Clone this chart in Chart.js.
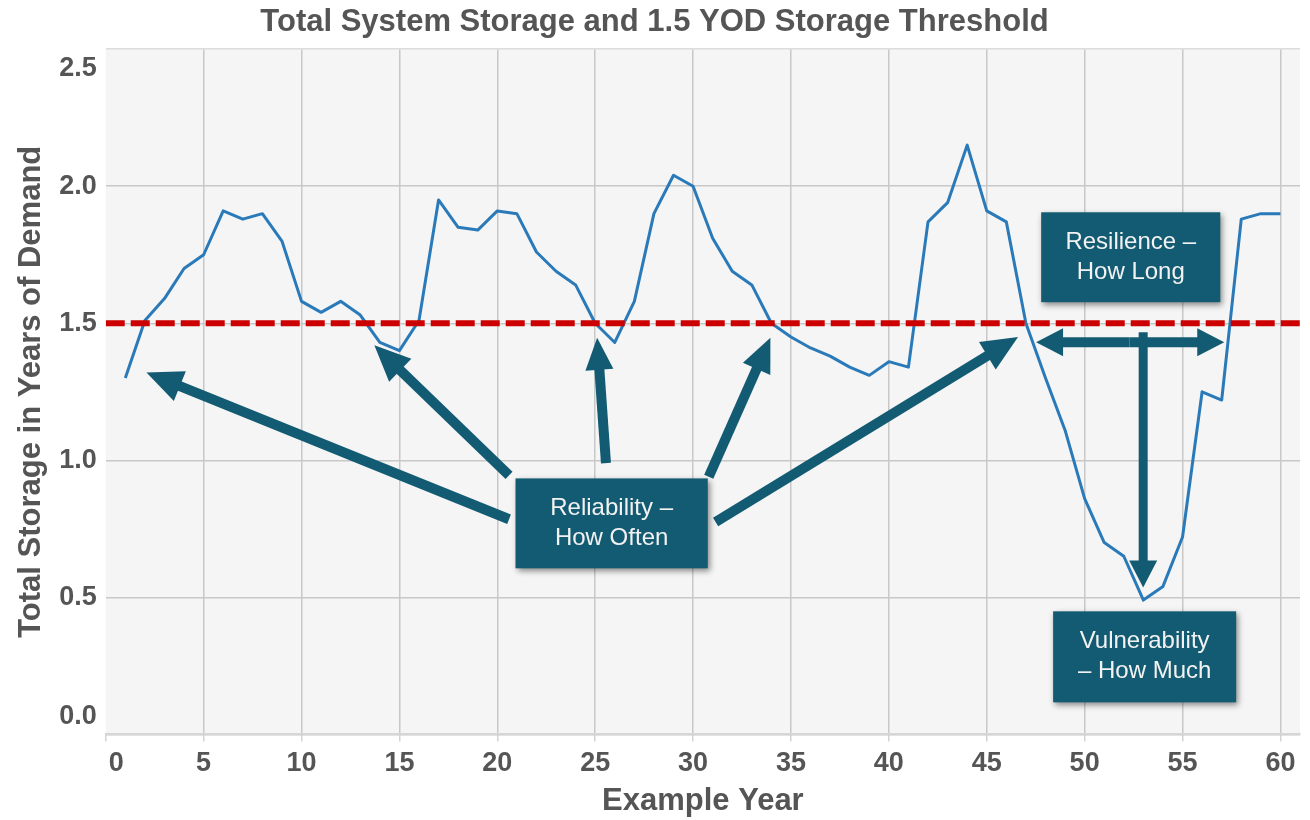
<!DOCTYPE html>
<html>
<head>
<meta charset="utf-8">
<title>Total System Storage and 1.5 YOD Storage Threshold</title>
<script src="https://cdn.jsdelivr.net/npm/chart.js"></script>
<style>
  html, body { margin: 0; padding: 0; background: #fff; }
  #wrap { width: 1310px; height: 820px; }
</style>
</head>
<body>
<div id="wrap"><canvas id="storageChart"></canvas></div>
<script>
// data
const years = [1, 2, 3, 4, 5, 6, 7, 8, 9, 10,
  11, 12, 13, 14, 15, 16, 17, 18, 19, 20,
  21, 22, 23, 24, 25, 26, 27, 28, 29, 30,
  31, 32, 33, 34, 35, 36, 37, 38, 39, 40,
  41, 42, 43, 44, 45, 46, 47, 48, 49, 50,
  51, 52, 53, 54, 55, 56, 57, 58, 59, 60];
const storage = [1.30, 1.51, 1.59, 1.70, 1.75, 1.91, 1.88, 1.90, 1.80, 1.58,
  1.54, 1.58, 1.53, 1.43, 1.40, 1.51, 1.95, 1.85, 1.84, 1.91,
  1.90, 1.76, 1.69, 1.64, 1.50, 1.43, 1.58, 1.90, 2.04, 2.00,
  1.81, 1.69, 1.64, 1.50, 1.45, 1.41, 1.38, 1.34, 1.31, 1.36,
  1.34, 1.87, 1.94, 2.15, 1.91, 1.87, 1.50, 1.30, 1.11, 0.86,
  0.70, 0.65, 0.49, 0.54, 0.72, 1.25, 1.22, 1.88, 1.90, 1.90];
const thresholdYod = 1.5;
const xTicks = [0, 5, 10, 15, 20, 25, 30, 35, 40, 45, 50, 55, 60];
const yTicks = [0, 0.5, 1.0, 1.5, 2.0, 2.5];
const yTickLabels = ['0.0', '0.5', '1.0', '1.5', '2.0', '2.5'];
const X_MAX = 61;

// callout boxes and arrows, in data units (year, years of demand)
const boxes = [
  { x1: 20.93, x2: 30.75, y1: 0.934, y2: 0.606, lines: ['Reliability \u2013', 'How Often'] },
  { x1: 47.78, x2: 56.93, y1: 1.905, y2: 1.577, lines: ['Resilience \u2013', 'How Long'] },
  { x1: 48.39, x2: 57.74, y1: 0.449, y2: 0.117, lines: ['Vulnerability', '\u2013 How Much'] }
];
const arrows = [
  { from: [20.6, 0.785], to: [2.08, 1.32], w: 10, head: 36, headW: 32 },
  { from: [20.6, 0.945], to: [13.72, 1.42], w: 10, head: 36, headW: 32 },
  { from: [25.55, 0.99], to: [25.1, 1.447], w: 10, head: 32, headW: 28 },
  { from: [30.8, 0.94], to: [33.95, 1.447], w: 10, head: 34, headW: 30 },
  { from: [31.15, 0.775], to: [46.6, 1.45], w: 10, head: 36, headW: 32 },
  { from: [52.3, 1.431], to: [47.52, 1.431], w: 10, head: 27, headW: 28 },
  { from: [52.3, 1.431], to: [57.13, 1.431], w: 10, head: 27, headW: 28 },
  { from: [52.99, 1.467], to: [52.99, 0.536], w: 9, head: 27, headW: 28 }
];

const TEXT = '#555555';
const FONT = '"Liberation Sans", Arial, sans-serif';
const TEAL = '#135b73';

const plotBg = {
  id: 'plotBg',
  beforeDraw(chart) {
    const { ctx, chartArea: a } = chart;
    ctx.save();
    ctx.fillStyle = '#f5f5f5';
    ctx.fillRect(a.left, a.top, a.right - a.left, a.bottom - a.top);
    ctx.restore();
  }
};

function drawArrow(ctx, x1, y1, x2, y2, w, head, headW) {
  const ang = Math.atan2(y2 - y1, x2 - x1);
  const bx = x2 - Math.cos(ang) * head;
  const by = y2 - Math.sin(ang) * head;
  ctx.beginPath();
  ctx.lineWidth = w;
  ctx.lineCap = 'butt';
  ctx.moveTo(x1, y1);
  ctx.lineTo(bx + Math.cos(ang) * 2, by + Math.sin(ang) * 2);
  ctx.stroke();
  ctx.beginPath();
  ctx.moveTo(x2, y2);
  ctx.lineTo(bx + Math.sin(ang) * headW / 2, by - Math.cos(ang) * headW / 2);
  ctx.lineTo(bx - Math.sin(ang) * headW / 2, by + Math.cos(ang) * headW / 2);
  ctx.closePath();
  ctx.fill();
}

const callouts = {
  id: 'callouts',
  afterDatasetsDraw(chart) {
    const { ctx } = chart;
    const xs = chart.scales.x, ys = chart.scales.y;
    ctx.save();
    ctx.strokeStyle = TEAL;
    ctx.fillStyle = TEAL;
    arrows.forEach(a => {
      drawArrow(ctx,
        xs.getPixelForValue(a.from[0]), ys.getPixelForValue(a.from[1]),
        xs.getPixelForValue(a.to[0]), ys.getPixelForValue(a.to[1]),
        a.w, a.head, a.headW);
    });
    boxes.forEach(b => {
      const l = xs.getPixelForValue(b.x1), r = xs.getPixelForValue(b.x2);
      const t = ys.getPixelForValue(b.y1), btm = ys.getPixelForValue(b.y2);
      ctx.save();
      ctx.shadowColor = 'rgba(0,0,0,0.45)';
      ctx.shadowBlur = 6;
      ctx.shadowOffsetX = 2;
      ctx.shadowOffsetY = 3;
      ctx.fillStyle = TEAL;
      ctx.fillRect(l, t, r - l, btm - t);
      ctx.restore();
      ctx.fillStyle = '#f2f2f2';
      ctx.font = '24px ' + FONT;
      ctx.textAlign = 'center';
      ctx.textBaseline = 'middle';
      const cx = (l + r) / 2, cy = (t + btm) / 2;
      ctx.fillText(b.lines[0], cx, cy - 15);
      ctx.fillText(b.lines[1], cx, cy + 15);
      ctx.fillStyle = TEAL;
    });
    ctx.restore();
  }
};

// tick labels, with the end labels pulled inside the plot like the original
const edgeTicks = {
  id: 'edgeTicks',
  afterDraw(chart) {
    const { ctx, chartArea: a } = chart;
    const xs = chart.scales.x, ys = chart.scales.y;
    ctx.save();
    ctx.fillStyle = TEXT;
    ctx.font = 'bold 27px ' + FONT;
    ctx.textAlign = 'right';
    ctx.textBaseline = 'middle';
    yTicks.forEach((v, i) => {
      let py = ys.getPixelForValue(v);
      py = Math.min(Math.max(py, a.top + 19), a.bottom - 18);
      ctx.fillText(yTickLabels[i], a.left - 9, py);
    });
    ctx.textAlign = 'center';
    ctx.textBaseline = 'middle';
    xTicks.forEach(v => {
      const label = String(v);
      const half = ctx.measureText(label).width / 2;
      let px = xs.getPixelForValue(v);
      px = Math.min(Math.max(px, a.left + half + 3), a.right - half - 3);
      ctx.fillText(label, px, a.bottom + 29);
    });
    ctx.restore();
  }
};

const ctx = document.getElementById('storageChart').getContext('2d');
const storageChart = new Chart(ctx, {
  type: 'line',
  data: {
    datasets: [{
      label: '1.5 YOD Storage Threshold',
      data: [{ x: 0, y: thresholdYod }, { x: X_MAX, y: thresholdYod }],
      borderColor: '#cc0000',
      borderWidth: 6,
      borderDash: [19, 6],
      borderCapStyle: 'butt',
      pointRadius: 0,
      order: 0
    }, {
      label: 'Total System Storage',
      data: years.map((yr, i) => ({ x: yr, y: storage[i] })),
      borderColor: '#2a7ab9',
      borderWidth: 3,
      borderJoinStyle: 'round',
      pointRadius: 0,
      tension: 0,
      order: 1
    }]
  },
  options: {
    responsive: true,
    maintainAspectRatio: false,
    animation: false,
    layout: { padding: { left: 9, right: 10, top: 0, bottom: 0 } },
    plugins: {
      legend: { display: false },
      tooltip: { enabled: false },
      title: {
        display: true,
        text: 'Total System Storage and 1.5 YOD Storage Threshold',
        color: TEXT,
        font: { family: FONT, size: 31, weight: 'bold' },
        padding: { top: 4, bottom: 8 }
      }
    },
    scales: {
      x: {
        type: 'linear',
        min: 0,
        max: X_MAX,
        afterBuildTicks: axis => { axis.ticks = xTicks.map(v => ({ value: v })); },
        ticks: {
          color: 'transparent',
          font: { family: FONT, size: 27, weight: 'bold' },
          padding: 3,
          maxRotation: 0
        },
        grid: {
          color: c => (c.tick && c.tick.value === 0) ? 'transparent' : '#c8c8c8',
          lineWidth: 1.5,
          tickColor: '#d4d4d4',
          tickLength: 7
        },
        border: { display: true, color: '#d6d6d6', width: 2 },
        title: {
          display: true,
          text: 'Example Year',
          color: TEXT,
          font: { family: FONT, size: 31, weight: 'bold' },
          padding: { top: 3, bottom: 0 }
        }
      },
      y: {
        min: 0,
        max: 2.5,
        afterBuildTicks: axis => { axis.ticks = yTicks.map(v => ({ value: v })); },
        ticks: {
          color: 'transparent',
          font: { family: FONT, size: 27, weight: 'bold' },
          padding: 9,
          callback: v => v.toFixed(1)
        },
        grid: {
          color: c => (c.tick && c.tick.value === 2.5) ? '#dcdcdc' : '#c8c8c8',
          lineWidth: 1.5,
          drawTicks: false
        },
        border: { display: false },
        title: {
          display: true,
          text: 'Total Storage in Years of Demand',
          color: TEXT,
          font: { family: FONT, size: 31, weight: 'bold' },
          padding: { top: 4, bottom: 0 }
        }
      }
    }
  },
  plugins: [plotBg, callouts, edgeTicks]
});
</script>
</body>
</html>
